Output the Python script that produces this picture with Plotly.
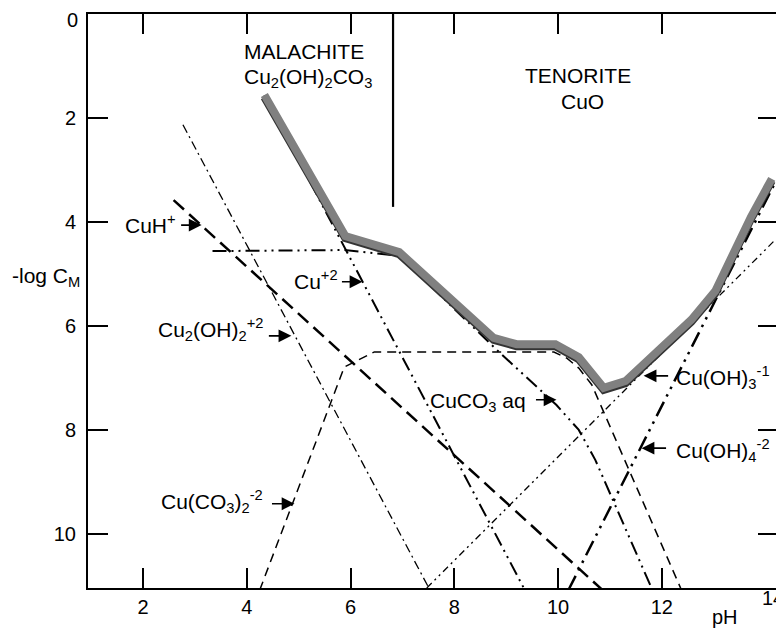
import plotly.graph_objects as go

# ---- data (pH, -log C) ----
total_ph = [4.34, 5.90, 6.94, 8.76, 9.20, 9.95, 10.40, 10.88, 11.30, 12.57, 13.03, 13.28, 13.72, 14.12]
total_logc = [1.56, 4.27, 4.58, 6.23, 6.35, 6.35, 6.60, 7.19, 7.06, 5.88, 5.33, 4.79, 3.90, 3.17]

cuh_ph = [2.59, 10.88]
cuh_logc = [3.58, 11.10]

cu2oh2_ph = [2.77, 7.51]
cu2oh2_logc = [2.13, 11.04]

cu_ph = [4.34, 9.34]
cu_logc = [1.56, 11.04]

cuoh3_ph = [7.47, 14.18]
cuoh3_logc = [11.04, 4.35]

cuoh4_ph = [10.20, 14.16]
cuoh4_logc = [11.08, 3.29]

cuco3_ph = [3.34, 5.88, 6.94, 8.82, 9.97, 10.40, 10.72, 11.82]
cuco3_logc = [4.56, 4.54, 4.65, 6.46, 7.52, 8.00, 8.58, 11.08]

cuco32_ph = [4.25, 5.88, 6.46, 9.92, 10.17, 10.40, 10.65, 12.38]
cuco32_logc = [11.08, 6.79, 6.50, 6.50, 6.62, 6.81, 7.13, 11.08]

boundary_ph = [6.82, 6.82]
boundary_logc = [0.0, 3.71]

x_ticks = [2, 4, 6, 8, 10, 12]
x_tick_labels = ["2", "4", "6", "8", "10", "12"]
y_ticks = [0, 2, 4, 6, 8, 10]
y_tick_labels = ["", "2", "4", "6", "8", "10"]   # "0" is placed as an annotation (sits at the frame edge)

FONT = "Liberation Sans, Arial, sans-serif"

fig = go.Figure()

def species(x, y, dash, width):
    fig.add_trace(go.Scatter(x=x, y=y, mode="lines", showlegend=False, hoverinfo="skip",
                             line=dict(color="black", width=width, dash=dash)))

species(cuh_ph, cuh_logc, "14px,7px", 2.5)
species(cu2oh2_ph, cu2oh2_logc, "9px,4px,2px,4px", 1.3)
species(cu_ph, cu_logc, "14px,5px,2px,5px,2px,5px", 2.0)
species(cuoh3_ph, cuoh3_logc, "7px,4px,2px,4px,2px,4px", 1.3)
species(cuoh4_ph, cuoh4_logc, "16px,6px,2.5px,6px,2.5px,6px", 2.5)
species(cuco3_ph, cuco3_logc, "14px,5px,2px,5px,2px,5px", 2.0)
species(cuco32_ph, cuco32_logc, "9px,6px", 1.5)
species(boundary_ph, boundary_logc, "solid", 2.2)

# dark edge of the total-solubility curve (slightly lower axis)
fig.add_trace(go.Scatter(x=total_ph, y=total_logc, mode="lines", yaxis="y2", showlegend=False,
                         hoverinfo="skip", line=dict(color="#333333", width=8)))
# gray total-solubility curve
fig.add_trace(go.Scatter(x=total_ph, y=total_logc, mode="lines", yaxis="y3", showlegend=False,
                         hoverinfo="skip", line=dict(color="#808080", width=8)))

ann = []
def txt(x, y, s, xanchor="left", size=21):
    ann.append(dict(x=x, y=y, xref="x", yref="y", text=s, showarrow=False, xanchor=xanchor,
                    yanchor="middle", font=dict(size=size, color="black", family=FONT)))

def arrow(x, y, ax):
    ann.append(dict(x=x, y=y, xref="x", yref="y", ax=ax, ay=0, text="", showarrow=True,
                    arrowhead=2, arrowsize=1.6, arrowwidth=1.6, arrowcolor="black", standoff=0))

txt(3.90, 0.73, "MALACHITE")
txt(3.90, 1.23, "Cu<sub>2</sub>(OH)<sub>2</sub>CO<sub>3</sub>")
txt(10.38, 1.19, "TENORITE", "center")
txt(10.48, 1.69, "CuO", "center")

txt(2.67, 4.04, "CuH<sup>+</sup>", "right")
arrow(3.13, 4.06, -22)
txt(5.80, 5.12, "Cu<sup>+2</sup>", "right")
arrow(6.23, 5.15, -22)
txt(4.36, 6.06, "Cu<sub>2</sub>(OH)<sub>2</sub><sup>+2</sup>", "right")
arrow(4.86, 6.19, -24)
txt(4.36, 9.37, "Cu(CO<sub>3</sub>)<sub>2</sub><sup>-2</sup>", "right")
arrow(4.92, 9.42, -24)
txt(9.42, 7.46, "CuCO<sub>3</sub> aq", "right")
arrow(9.97, 7.42, -22)
txt(12.24, 7.00, "Cu(OH)<sub>3</sub><sup>-1</sup>", "left")
arrow(11.65, 6.96, 26)
txt(12.24, 8.40, "Cu(OH)<sub>4</sub><sup>-2</sup>", "left")
arrow(11.61, 8.35, 26)

def paper_txt(x, y, s, xanchor, size):
    ann.append(dict(x=x, y=y, xref="paper", yref="paper", text=s, showarrow=False,
                    xanchor=xanchor, yanchor="middle",
                    font=dict(size=size, color="black", family=FONT)))

paper_txt(-0.1127, 0.5418, "-log C<sub>M</sub>", "left", 21)
paper_txt(0.9234, -0.0505, "pH", "center", 20)
paper_txt(0.9928, -0.0174, "14", "center", 20)
paper_txt(-0.012, 0.9895, "0", "right", 20)

axis_common = dict(showgrid=False, zeroline=False, showline=True, linewidth=2, linecolor="black",
                   mirror="ticks", ticks="inside", ticklen=20, tickwidth=2, tickcolor="black",
                   tickfont=dict(size=20, color="black", family=FONT))

# page body has an 8px margin: size the figure so the plot frame lands where the reference has it
fig.update_layout(
    width=776, height=621,
    margin=dict(l=80, r=4, t=6, b=41),
    paper_bgcolor="white", plot_bgcolor="white",
    xaxis=dict(range=[0.94, 14.24], tickvals=x_ticks, ticktext=x_tick_labels, **axis_common),
    yaxis=dict(range=[11.04, 0], tickvals=y_ticks, ticktext=y_tick_labels,
               ticklabelstandoff=6, **axis_common),
    yaxis2=dict(range=[11.0, -0.04], overlaying="y", visible=False),
    yaxis3=dict(range=[11.04, 0], overlaying="y", visible=False),
    annotations=ann,
)

fig.write_html("out.html")
